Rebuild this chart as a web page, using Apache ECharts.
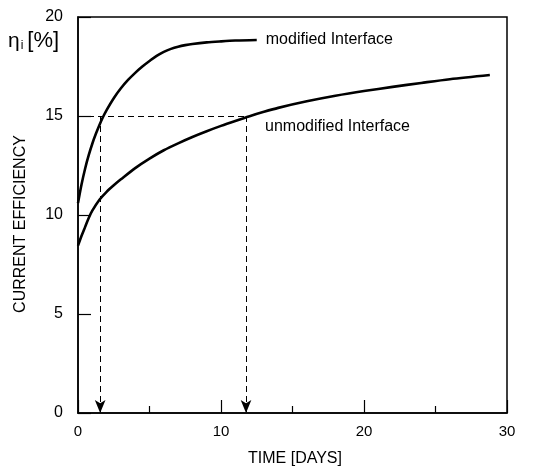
<!DOCTYPE html>
<html>
<head>
<meta charset="utf-8">
<script src="https://cdn.jsdelivr.net/npm/echarts@6/dist/echarts.min.js"></script>
<style>
  html, body { margin: 0; padding: 0; background: #fff; }
  #chart { width: 533px; height: 471px; }
</style>
</head>
<body>
<div id="chart"></div>
<script>
// data
const modDays = [0, 0.25, 0.5, 0.75, 1, 1.25, 1.5, 1.75, 2, 2.5, 3, 3.5, 4, 4.5, 5, 5.5, 6, 6.5, 7, 7.5, 8, 9, 10, 11, 12.5];
const modEff = [10.6, 11.55, 12.35, 13.02, 13.6, 14.1, 14.55, 14.95, 15.3, 15.9, 16.4, 16.82, 17.18, 17.5, 17.78,
  18.04, 18.24, 18.39, 18.5, 18.58, 18.64, 18.72, 18.77, 18.81, 18.84];
const unmodDays = [0, 0.25, 0.5, 0.75, 1, 1.5, 2, 2.5, 3, 4, 5, 6, 7, 8, 9, 10, 11, 12, 13, 14, 16, 18, 20, 22, 24, 26, 28.8];
const unmodEff = [8.45, 8.95, 9.4, 9.85, 10.22, 10.77, 11.17, 11.5, 11.8, 12.37, 12.85, 13.27, 13.62, 13.94,
  14.23, 14.5, 14.75, 14.99, 15.21, 15.41, 15.74, 16.02, 16.26, 16.47, 16.67, 16.86, 17.07];
const refEff = 15;
const arrowDays = [1.55, 11.75];
const xTicks = [0, 10, 20, 30];
const yTicks = [0, 5, 10, 15, 20];

const font = "Liberation Sans, Arial, sans-serif";
const chart = echarts.init(document.getElementById("chart"));

const pair = (a, b) => a.map((v, i) => [v, b[i]]);

const option = {
  animation: false,
  grid: {
    left: 78, right: 26, top: 17, bottom: 58,
    show: true, borderColor: "#000", borderWidth: 1.5,
  },
  xAxis: {
    type: "value",
    min: xTicks[0], max: xTicks[xTicks.length - 1], interval: 10,
    axisLine: { lineStyle: { color: "#000", width: 1.5 } },
    axisTick: { inside: true, length: 13, lineStyle: { color: "#000", width: 1.2 } },
    minorTick: { show: true, splitNumber: 2, length: 7, lineStyle: { color: "#000", width: 1.2 } },
    splitLine: { show: false },
    axisLabel: { color: "#000", fontSize: 15, fontFamily: font, margin: 11 },
  },
  yAxis: {
    type: "value",
    min: yTicks[0], max: yTicks[yTicks.length - 1], interval: 5,
    axisLine: { lineStyle: { color: "#000", width: 1.5 } },
    axisTick: { inside: true, length: 13, lineStyle: { color: "#000", width: 1.2 } },
    splitLine: { show: false },
    axisLabel: { color: "#000", fontSize: 16, fontFamily: font, margin: 15 },
  },
  graphic: [
    {
      type: "text", left: 8, top: 30,
      style: {
        text: "{a|η}{s|i}{b|[%]}",
        rich: {
          a: { fontSize: 21, fontFamily: font, fill: "#000" },
          s: { fontSize: 12, fontFamily: font, fill: "#000", padding: [10, 4, 0, 1] },
          b: { fontSize: 22, fontFamily: font, fill: "#000" },
        },
      },
    },
    {
      type: "text", x: 21, y: 224, rotation: Math.PI / 2,
      style: {
        text: "CURRENT EFFICIENCY", fontSize: 16, fontFamily: font, fill: "#000",
        align: "center", verticalAlign: "middle",
      },
    },
    {
      type: "text", x: 295, y: 459,
      style: {
        text: "TIME [DAYS]", fontSize: 16, fontFamily: font, fill: "#000",
        align: "center", verticalAlign: "middle",
      },
    },
    {
      type: "text", x: 265, y: 127,
      style: {
        text: "unmodified Interface", fontSize: 16, fontFamily: font, fill: "#000",
        verticalAlign: "middle",
      },
    },
  ],
  series: [
    {
      name: "modified Interface",
      type: "line",
      data: pair(modDays, modEff),
      smooth: 0.3,
      showSymbol: false,
      lineStyle: { color: "#000", width: 2.6 },
      endLabel: {
        show: true, formatter: "modified Interface", distance: 9,
        fontSize: 16, fontFamily: font, color: "#000",
      },
    },
    {
      name: "unmodified Interface",
      type: "line",
      data: pair(unmodDays, unmodEff),
      smooth: 0.3,
      showSymbol: false,
      lineStyle: { color: "#000", width: 2.6 },
      markLine: {
        silent: true,
        symbolSize: [8, 13],
        label: { show: false },
        lineStyle: { color: "#000", width: 1, type: [6, 4] },
        data: [
          [
            { coord: [0, refEff], symbol: "none" },
            { coord: [arrowDays[1], refEff], symbol: "none" },
          ],
          ...arrowDays.map((d) => [
            { coord: [d, refEff], symbol: "none" },
            { coord: [d, 0], symbol: "arrow" },
          ]),
        ],
      },
    },
  ],
};

chart.setOption(option);
</script>
</body>
</html>
